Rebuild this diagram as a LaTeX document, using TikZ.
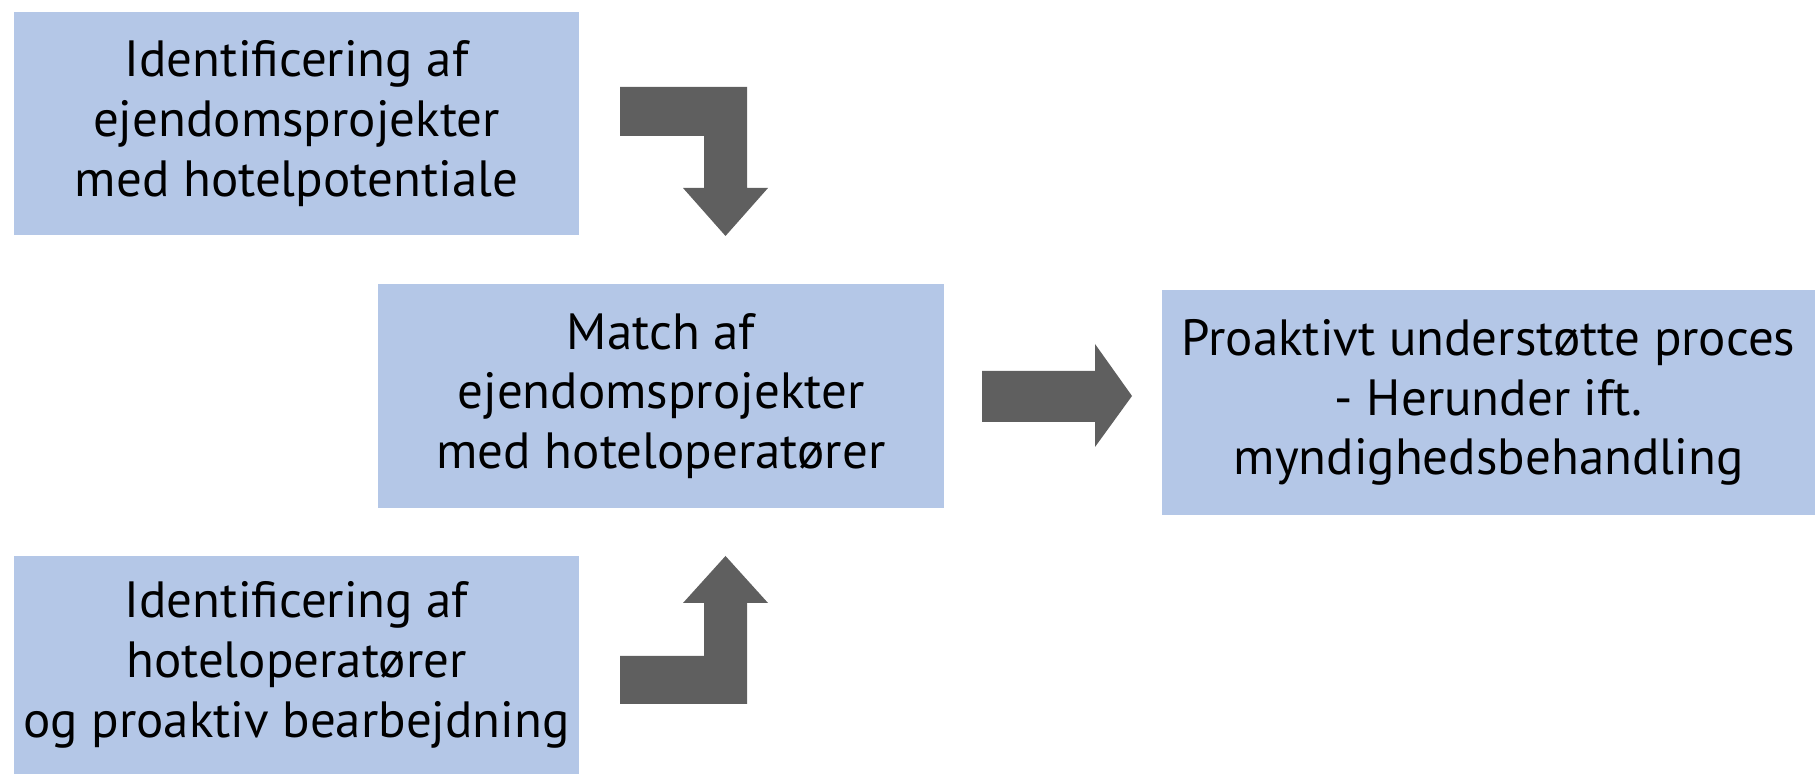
\documentclass[tikz,border=0pt]{standalone}
\usepackage{fontspec}
\setmainfont{PT Sans}
\usepackage{tikz}
\usetikzlibrary{positioning}
\definecolor{boxblue}{HTML}{B4C7E7}
\definecolor{arrowgrey}{HTML}{5F5F5F}

\begin{document}
\begin{tikzpicture}
      \useasboundingbox (0,0) rectangle (18.16,7.75);
      \begin{scope}[every node/.style={rectangle, fill=boxblue, align=center,
                    inner sep=0pt, font=\fontsize{14.5}{17}\selectfont}]
          \node[minimum width=5.65cm, minimum height=2.23cm] (E1) at (2.965,6.515) {Identificering af\\ejendomsprojekter\\med hotelpotentiale};
          \node[minimum width=5.66cm, minimum height=2.24cm] (M1) at (6.61,3.79) {Match af\\ejendomsprojekter\\med hoteloperatører};
          \node[minimum width=6.53cm, minimum height=2.25cm] (P1) at (14.885,3.725) {Proaktivt understøtte proces\\- Herunder ift.\\myndighedsbehandling};
          \node[minimum width=5.65cm, minimum height=2.18cm] (H1) at (2.965,1.10) {Identificering af\\hoteloperatører\\og proaktiv bearbejdning};
      \end{scope}

      \begin{scope}[every path/.style={fill=arrowgrey, draw=none}]
          \path (6.20,6.88) -- (7.47,6.88) -- (7.47,5.87) -- (7.68,5.87) -- (7.255,5.39)
                -- (6.83,5.87) -- (7.04,5.87) -- (7.04,6.39) -- (6.20,6.39) -- cycle;
          \path (6.20,0.71) -- (7.47,0.71) -- (7.47,1.72) -- (7.68,1.72) -- (7.255,2.19)
                -- (6.83,1.72) -- (7.04,1.72) -- (7.04,1.19) -- (6.20,1.19) -- cycle;
          \path (9.82,4.04) -- (10.95,4.04) -- (10.95,4.31) -- (11.32,3.79)
                -- (10.95,3.28) -- (10.95,3.53) -- (9.82,3.53) -- cycle;
      \end{scope}
      \end{tikzpicture}
\end{document}
